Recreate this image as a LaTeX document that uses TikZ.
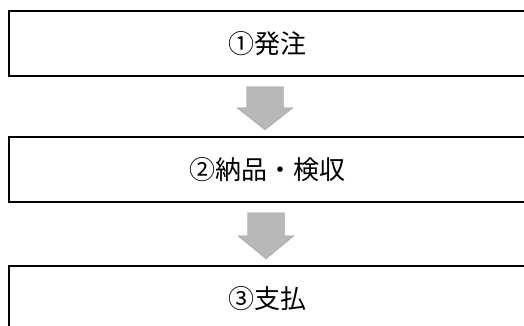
\documentclass[tikz,border=0pt]{standalone}
\usepackage{fontspec}
\newfontfamily\jpfont{Noto Sans CJK JP}
\begin{document}
\begin{tikzpicture}[x=1pt,y=-1pt]
\tikzstyle{stage}=[draw=black,line width=1.6pt,minimum width=517pt,minimum height=65pt,inner sep=0pt,font=\jpfont\fontsize{26}{30}\selectfont]
\tikzstyle{flow}=[fill=black!28,draw=black!40,line width=0.4pt]
\useasboundingbox (0,0) rectangle (524,325);
\node [stage] (s1) at (267.5,43.5) {①発注};
\node [stage] (s2) at (267.5,169.5) {②納品・検収};
\node [stage] (s3) at (267.5,298.5) {③支払};
\draw [flow] ([shift={(-21,10)}]s1.south) -- ++(37,0) -- ++(0,21) -- ++(9.5,0) -- ++(-28,22) -- ++(-28,-22) -- ++(9.5,0) -- cycle;
\draw [flow] ([shift={(-20,10)}]s2.south) -- ++(37,0) -- ++(0,23) -- ++(9.5,0) -- ++(-28,23) -- ++(-28,-23) -- ++(9.5,0) -- cycle;
\end{tikzpicture}
\end{document}
